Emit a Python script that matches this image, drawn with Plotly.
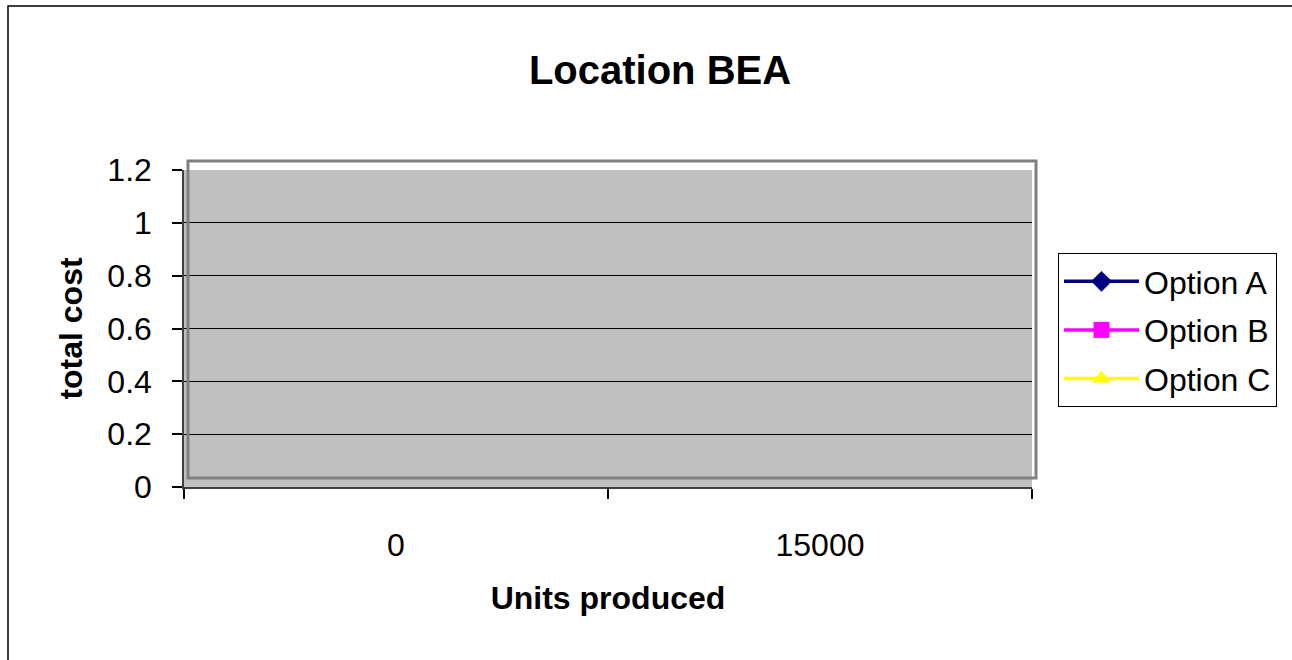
import plotly.graph_objects as go

categories = ["0", "15000"]
option_a = [None, None]
option_b = [None, None]
option_c = [None, None]
series_names = ["Option A", "Option B", "Option C"]
series_colors = ["#000080", "#FF00FF", "#FFFF00"]
series_symbols = ["diamond", "square", "triangle-up"]

FONT = "Liberation Sans, Arial, sans-serif"

fig = go.Figure()
for i, (name, vals) in enumerate(zip(series_names, [option_a, option_b, option_c])):
    fig.add_trace(go.Scatter(
        x=categories, y=vals, name=name, mode="lines+markers",
        line=dict(color=series_colors[i], width=3.5),
        marker=dict(color=series_colors[i], symbol=series_symbols[i], size=16),
        legendgroup=name, showlegend=True,
    ))

W, H = 1292, 660
L, R, T, B = 184, 1032, 170, 487
pw, ph = R - L, B - T

def px(x):
    return (x - L) / pw

def py(y):
    return (B - y) / ph

fig.update_layout(
    width=W, height=H,
    margin=dict(l=L, r=W - R, t=T, b=H - B, pad=0),
    paper_bgcolor="white",
    plot_bgcolor="#C0C0C0",
    font=dict(family=FONT, size=32, color="black"),
    title=dict(text="<b>Location BEA</b>", font=dict(size=40, family=FONT),
               x=660 / W, xref="container", xanchor="center",
               y=1 - 70 / H, yref="container", yanchor="middle"),
    xaxis=dict(type="category", categoryorder="array", categoryarray=categories,
               range=[-0.5, 1.5], tickson="boundaries", ticks="outside", ticklen=10,
               tickcolor="black", tickwidth=1.5, showgrid=False, showline=True,
               linecolor="#404040", linewidth=1.5, ticklabelstandoff=29,
               tickfont=dict(size=32),
               title=dict(text="<b>Units produced</b>", font=dict(size=32), standoff=24)),
    yaxis=dict(range=[0, 1.2], tickvals=[0, 0.2, 0.4, 0.6, 0.8, 1.0, 1.2],
               ticktext=["0", "0.2", "0.4", "0.6", "0.8", "1", "1.2"],
               ticks="outside", ticklen=10, tickcolor="black", tickwidth=1.5,
               showgrid=True, gridcolor="black", gridwidth=1, zeroline=False,
               showline=True, linecolor="#404040", linewidth=1.5,
               ticklabelstandoff=14, tickfont=dict(size=32),
               title=dict(text="<b>total cost</b>", font=dict(size=32), standoff=15)),
    legend=dict(x=px(1058), y=py(253), xanchor="left", yanchor="top",
                bordercolor="black", borderwidth=1, bgcolor="white",
                font=dict(size=32, family=FONT), tracegroupgap=4,
                traceorder="grouped", itemwidth=75),
    showlegend=True,
    shapes=[
        dict(type="rect", xref="paper", yref="paper",
             x0=px(188), x1=px(1036), y0=py(478), y1=py(161),
             line=dict(color="#808080", width=3), fillcolor="rgba(0,0,0,0)", layer="above"),
        dict(type="rect", xref="paper", yref="paper",
             x0=px(8), x1=px(1400), y0=py(760), y1=py(6),
             line=dict(color="black", width=1.5), fillcolor="rgba(0,0,0,0)", layer="above"),
    ],
)

fig.write_html("out.html", config={"displayModeBar": False},
               post_script="document.body.style.margin='0';")
